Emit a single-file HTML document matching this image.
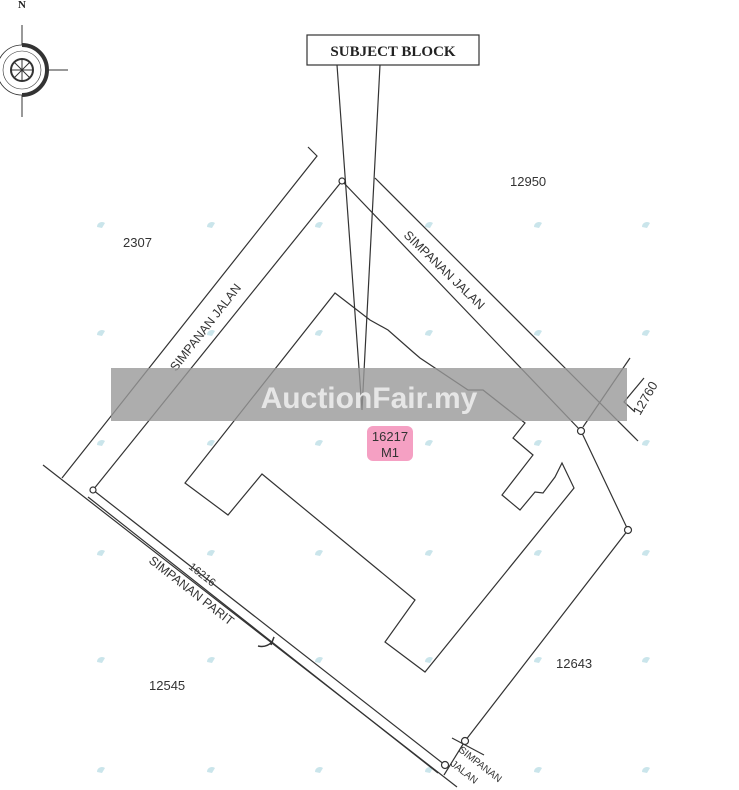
<!DOCTYPE html>
<html><head><style>
html,body{margin:0;padding:0;background:#fff;}
svg{display:block;font-family:"Liberation Sans",sans-serif;}
</style></head><body>
<svg width="739" height="790" viewBox="0 0 739 790" xmlns="http://www.w3.org/2000/svg">
<g fill="#a7d3de" opacity="0.6">
<path d="M97,227a5,5 0 0 1 8,-4l-3,5z M207,227a5,5 0 0 1 8,-4l-3,5z M315,227a5,5 0 0 1 8,-4l-3,5z M425,227a5,5 0 0 1 8,-4l-3,5z M534,227a5,5 0 0 1 8,-4l-3,5z M642,227a5,5 0 0 1 8,-4l-3,5z
M97,335a5,5 0 0 1 8,-4l-3,5z M207,335a5,5 0 0 1 8,-4l-3,5z M315,335a5,5 0 0 1 8,-4l-3,5z M425,335a5,5 0 0 1 8,-4l-3,5z M534,335a5,5 0 0 1 8,-4l-3,5z M642,335a5,5 0 0 1 8,-4l-3,5z
M97,445a5,5 0 0 1 8,-4l-3,5z M207,445a5,5 0 0 1 8,-4l-3,5z M315,445a5,5 0 0 1 8,-4l-3,5z M425,445a5,5 0 0 1 8,-4l-3,5z M534,445a5,5 0 0 1 8,-4l-3,5z M642,445a5,5 0 0 1 8,-4l-3,5z
M97,555a5,5 0 0 1 8,-4l-3,5z M207,555a5,5 0 0 1 8,-4l-3,5z M315,555a5,5 0 0 1 8,-4l-3,5z M425,555a5,5 0 0 1 8,-4l-3,5z M534,555a5,5 0 0 1 8,-4l-3,5z M642,555a5,5 0 0 1 8,-4l-3,5z
M97,662a5,5 0 0 1 8,-4l-3,5z M207,662a5,5 0 0 1 8,-4l-3,5z M315,662a5,5 0 0 1 8,-4l-3,5z M425,662a5,5 0 0 1 8,-4l-3,5z M534,662a5,5 0 0 1 8,-4l-3,5z M642,662a5,5 0 0 1 8,-4l-3,5z
M97,772a5,5 0 0 1 8,-4l-3,5z M207,772a5,5 0 0 1 8,-4l-3,5z M315,772a5,5 0 0 1 8,-4l-3,5z M425,772a5,5 0 0 1 8,-4l-3,5z M534,772a5,5 0 0 1 8,-4l-3,5z M642,772a5,5 0 0 1 8,-4l-3,5z"/>
</g>

<g fill="none" stroke="#333" stroke-width="1.2">
<polyline points="308,147 317,156 62,478"/>
<line x1="342" y1="181" x2="93" y2="490"/>
<line x1="375" y1="178" x2="638" y2="441"/>
<line x1="342" y1="181" x2="581" y2="431"/>
<line x1="630" y1="358" x2="583" y2="427"/>
<polyline points="644,378 624,402 635,412"/>
<line x1="43" y1="465" x2="457" y2="787"/>
<line x1="88" y1="497" x2="438" y2="773"/>
<line x1="93" y1="490" x2="445" y2="765"/>
<polyline points="581,431 628,530 465,741"/>
<line x1="452" y1="738" x2="484" y2="755"/>
<line x1="465" y1="741" x2="444" y2="775"/>
<polygon points="335,293 370,320 388,330 413,352 420,358 468,390 483,390 525,423 513,438 533,455 502,495 520,510 535,492 543,493 555,477 562,463 574,488 425,672 385,642 415,600 262,474 228,515 185,483"/>
</g>
<g fill="#fff" stroke="#333" stroke-width="1.2">
<circle cx="342" cy="181" r="3"/><circle cx="93" cy="490" r="3"/><circle cx="581" cy="431" r="3.5"/>
<circle cx="628" cy="530" r="3.5"/><circle cx="465" cy="741" r="3.5"/><circle cx="445" cy="765" r="3.5"/>
</g>

<g stroke="#333" fill="none">
<circle cx="22" cy="70" r="25" stroke-width="0.8"/>
<circle cx="22" cy="70" r="19" stroke-width="0.6"/>
<path d="M22,45 A25,25 0 0 1 22,95" stroke-width="4"/>
<circle cx="22" cy="70" r="11" stroke-width="2"/>
<line x1="11" y1="70" x2="33" y2="70"/><line x1="22" y1="59" x2="22" y2="81"/>
<line x1="14" y1="62" x2="30" y2="78"/><line x1="30" y1="62" x2="14" y2="78"/>
<line x1="22" y1="25" x2="22" y2="45"/><line x1="22" y1="95" x2="22" y2="117"/>
<line x1="47" y1="70" x2="68" y2="70"/>
</g>
<text x="22" y="8" font-family="Liberation Serif" font-weight="bold" font-size="11" text-anchor="middle" fill="#222">N</text>

<rect x="307" y="35" width="172" height="30" fill="#fff" stroke="#333" stroke-width="1.2"/>
<text x="393" y="56" font-family="Liberation Serif" font-weight="bold" font-size="15" text-anchor="middle" fill="#222">SUBJECT BLOCK</text>
<polyline points="337,65 362,410 380,65" fill="none" stroke="#333" stroke-width="1.2"/>

<g fill="#333" font-size="13">
<text x="510" y="186">12950</text>
<text x="123" y="247">2307</text>
<text x="556" y="668">12643</text>
<text x="149" y="690">12545</text>
<text transform="translate(176,372) rotate(-52)" font-size="12.5">SIMPANAN JALAN</text>
<text transform="translate(403,236) rotate(44)" font-size="12.5">SIMPANAN JALAN</text>
<text transform="translate(148,562) rotate(38)" font-size="12.5">SIMPANAN PARIT</text>
<text transform="translate(188,568) rotate(38)" font-size="11">16216</text>
<text transform="translate(640,416) rotate(-60)" font-size="13">12760</text>
<text transform="translate(458,751) rotate(38)" font-size="10">SIMPANAN</text>
<text transform="translate(450,765) rotate(38)" font-size="10">JALAN</text>
</g>
<path d="M258,646 q8,2 14,-4 l2,-5 -3,8" fill="none" stroke="#333" stroke-width="1.5"/>

<rect x="111" y="368" width="516" height="53" fill="#999" opacity="0.8"/>
<text x="369" y="408" font-size="30" font-weight="bold" text-anchor="middle" fill="#e6e6e6">AuctionFair.my</text>

<rect x="367" y="426" width="46" height="35" rx="6" fill="#f38fb8" opacity="0.85"/>
<text x="390" y="441" font-size="13" text-anchor="middle" fill="#333">16217</text>
<text x="390" y="457" font-size="13" text-anchor="middle" fill="#333">M1</text>
</svg>
</body></html>
